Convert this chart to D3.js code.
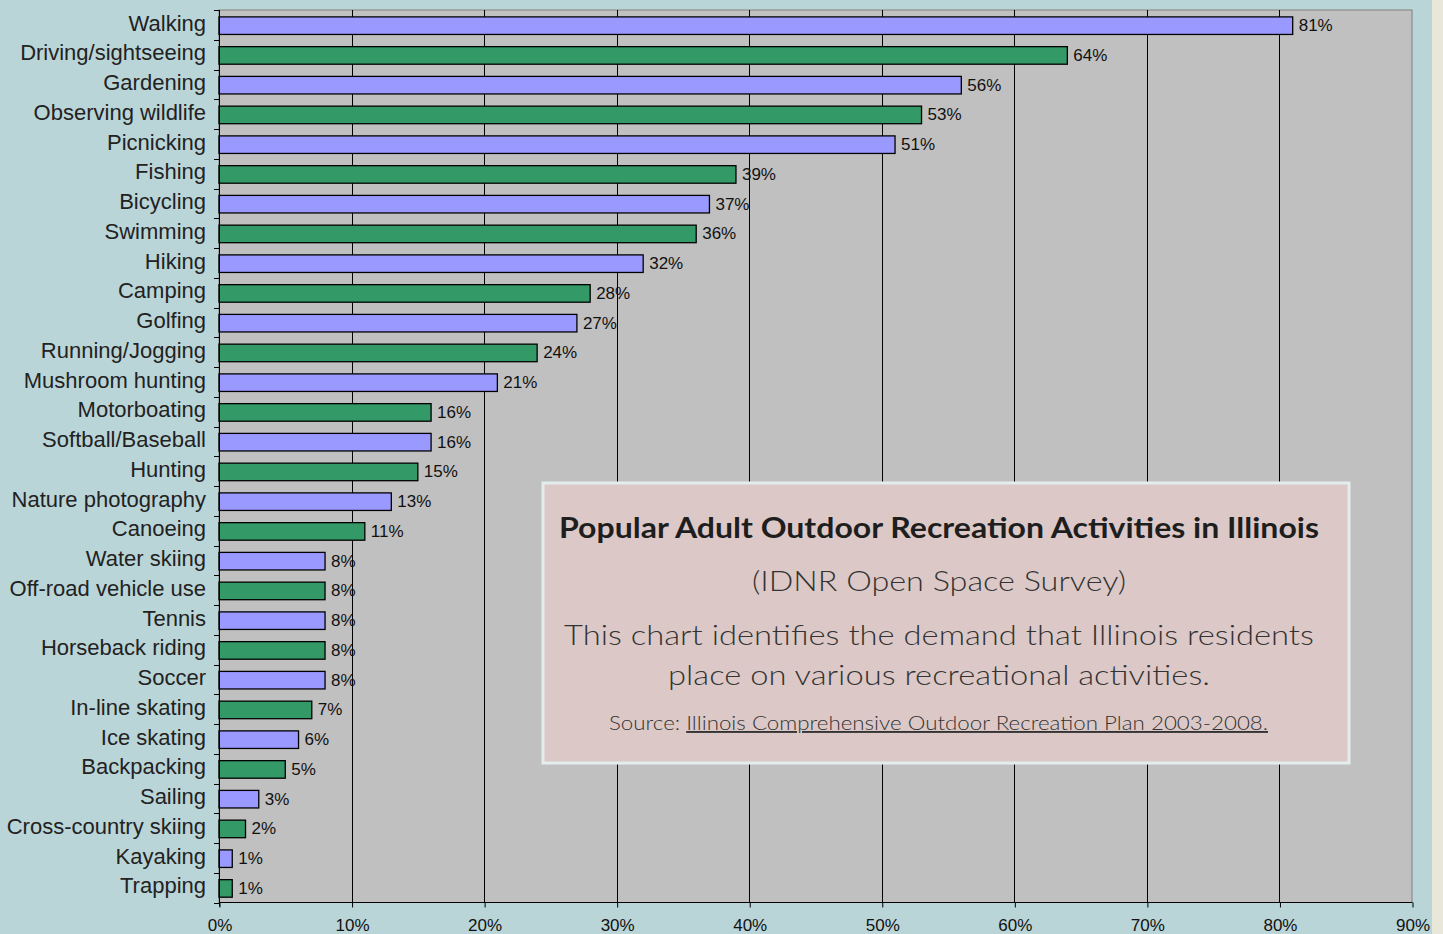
<!DOCTYPE html>
<html>
<head>
    <meta charset="utf-8">
    <title>Popular Adult Outdoor Recreation Activities in Illinois</title>
    <script src="https://d3js.org/d3.v7.min.js"></script>
    <style>
        body { margin: 0; background: #bad5d8; }
        svg { display: block; }
        .cat-label { font-family: "Liberation Sans", Arial, sans-serif; font-size: 22px; fill: #222; }
        .val-label { font-family: "Liberation Sans", Arial, sans-serif; font-size: 17px; fill: #111; }
        .x-axis text { font-family: "Liberation Sans", Arial, sans-serif; font-size: 17px; fill: #111; }
        .note { font-family: Lato, "Open Sans", sans-serif; }
    </style>
</head>
<body>
    <div id="chart"></div>
    <script>
        // Activities, in the order shown (top to bottom)
        const activities = [
            'Walking', 'Driving/sightseeing', 'Gardening', 'Observing wildlife', 'Picnicking',
            'Fishing', 'Bicycling', 'Swimming', 'Hiking', 'Camping',
            'Golfing', 'Running/Jogging', 'Mushroom hunting', 'Motorboating', 'Softball/Baseball',
            'Hunting', 'Nature photography', 'Canoeing', 'Water skiing', 'Off-road vehicle use',
            'Tennis', 'Horseback riding', 'Soccer', 'In-line skating', 'Ice skating',
            'Backpacking', 'Sailing', 'Cross-country skiing', 'Kayaking', 'Trapping'
        ];
        // Percent of adult residents taking part
        const percents = [
            81, 64, 56, 53, 51,
            39, 37, 36, 32, 28,
            27, 24, 21, 16, 16,
            15, 13, 11, 8, 8,
            8, 8, 8, 7, 6,
            5, 3, 2, 1, 1
        ];
        const xTicks = [0, 10, 20, 30, 40, 50, 60, 70, 80, 90];
        const barColors = ['#9999ff', '#339966'];

        const width = 1443, height = 934;
        const plotL = 219, plotR = 1412, plotT = 10, plotB = 902.5;

        const svg = d3.select('#chart').append('svg')
            .attr('width', width)
            .attr('height', height);

        // off-white strip at the very right edge
        svg.append('rect')
            .attr('x', 1432).attr('y', 0)
            .attr('width', width - 1432).attr('height', height)
            .attr('fill', '#e9e7da');

        const x = d3.scaleLinear().domain([0, 90]).range([plotL, plotR]);
        const y = d3.scaleBand()
            .domain(activities)
            .range([plotT, plotB])
            .paddingInner(0.41)
            .paddingOuter(0.205);

        // plot area
        svg.append('rect')
            .attr('x', plotL).attr('y', plotT)
            .attr('width', plotR - plotL).attr('height', plotB - plotT)
            .attr('fill', '#c0c0c0')
            .attr('stroke', '#808080')
            .attr('stroke-width', 1);

        // vertical gridlines
        svg.append('g')
            .selectAll('line')
            .data(xTicks.slice(1, -1))
            .join('line')
            .attr('x1', d => Math.round(x(d)) + 0.5)
            .attr('x2', d => Math.round(x(d)) + 0.5)
            .attr('y1', plotT)
            .attr('y2', plotB)
            .attr('stroke', '#000')
            .attr('stroke-width', 1);

        // bars
        svg.append('g')
            .selectAll('rect')
            .data(activities)
            .join('rect')
            .attr('x', plotL)
            .attr('y', d => y(d) + 0.8)
            .attr('width', (d, i) => x(percents[i]) - plotL)
            .attr('height', y.bandwidth())
            .attr('fill', (d, i) => barColors[i % 2])
            .attr('stroke', '#000')
            .attr('stroke-width', 1.3);

        // value labels
        svg.append('g')
            .selectAll('text')
            .data(activities)
            .join('text')
            .attr('class', 'val-label')
            .attr('x', (d, i) => x(percents[i]) + 6)
            .attr('y', d => y(d) + y.bandwidth() / 2 + 0.3)
            .attr('dy', '0.35em')
            .text((d, i) => percents[i] + '%');

        // category axis
        svg.append('line')
            .attr('x1', plotL + 0.5).attr('x2', plotL + 0.5)
            .attr('y1', plotT).attr('y2', plotB + 4)
            .attr('stroke', '#000');
        const bandEdges = d3.range(activities.length + 1).map(i => plotT + i * y.step());
        svg.append('g')
            .selectAll('line')
            .data(bandEdges)
            .join('line')
            .attr('x1', plotL - 5).attr('x2', plotL)
            .attr('y1', d => Math.round(d) + 0.5)
            .attr('y2', d => Math.round(d) + 0.5)
            .attr('stroke', '#000');
        svg.append('g')
            .selectAll('text')
            .data(activities)
            .join('text')
            .attr('class', 'cat-label')
            .attr('x', 206)
            .attr('y', d => y(d) + y.bandwidth() / 2 - 2)
            .attr('dy', '0.35em')
            .attr('text-anchor', 'end')
            .text(d => d);

        // value axis
        const xAxis = d3.axisBottom(x)
            .tickValues(xTicks)
            .tickFormat(d => d + '%')
            .tickSize(5)
            .tickPadding(11);
        const gx = svg.append('g')
            .attr('class', 'x-axis')
            .attr('transform', `translate(0.5,${plotB})`)
            .call(xAxis);
        gx.select('.domain').attr('stroke', '#000').attr('d', `M${plotL},0H${plotR}`);
        gx.selectAll('.tick line').attr('stroke', '#000');

        // note box
        const box = svg.append('g');
        box.append('rect')
            .attr('x', 543).attr('y', 483)
            .attr('width', 806).attr('height', 280)
            .attr('fill', '#dcc9c7')
            .attr('stroke', '#e3eded')
            .attr('stroke-width', 3);

        const cx = 939;
        const noteLines = [
            { text: 'Popular Adult Outdoor Recreation Activities in Illinois', y: 538, size: 29, weight: 'bold', fill: '#1e1e1e', len: 760 },
            { text: '(IDNR Open Space Survey)', y: 591, size: 27, weight: 300, fill: '#333', len: 374 },
            { text: 'This chart identifies the demand that Illinois residents', y: 645, size: 28, weight: 300, fill: '#333', len: 750 },
            { text: 'place on various recreational activities.', y: 685, size: 28, weight: 300, fill: '#333', len: 542 }
        ];
        box.selectAll('text.line')
            .data(noteLines)
            .join('text')
            .attr('class', 'note line')
            .attr('x', cx)
            .attr('y', d => d.y)
            .attr('text-anchor', 'middle')
            .attr('font-size', d => d.size)
            .attr('font-weight', d => d.weight)
            .attr('fill', d => d.fill)
            .attr('textLength', d => d.len)
            .attr('lengthAdjust', 'spacingAndGlyphs')
            .text(d => d.text);

        const src = box.append('text')
            .attr('class', 'note')
            .attr('x', 609)
            .attr('y', 730)
            .attr('font-size', 19)
            .attr('font-weight', 300)
            .attr('fill', '#333')
            .attr('textLength', 659)
            .attr('lengthAdjust', 'spacingAndGlyphs');
        src.append('tspan').text('Source: ');
        src.append('tspan')
            .attr('text-decoration', 'underline')
            .text('Illinois Comprehensive Outdoor Recreation Plan 2003-2008.');
    </script>
</body>
</html>
